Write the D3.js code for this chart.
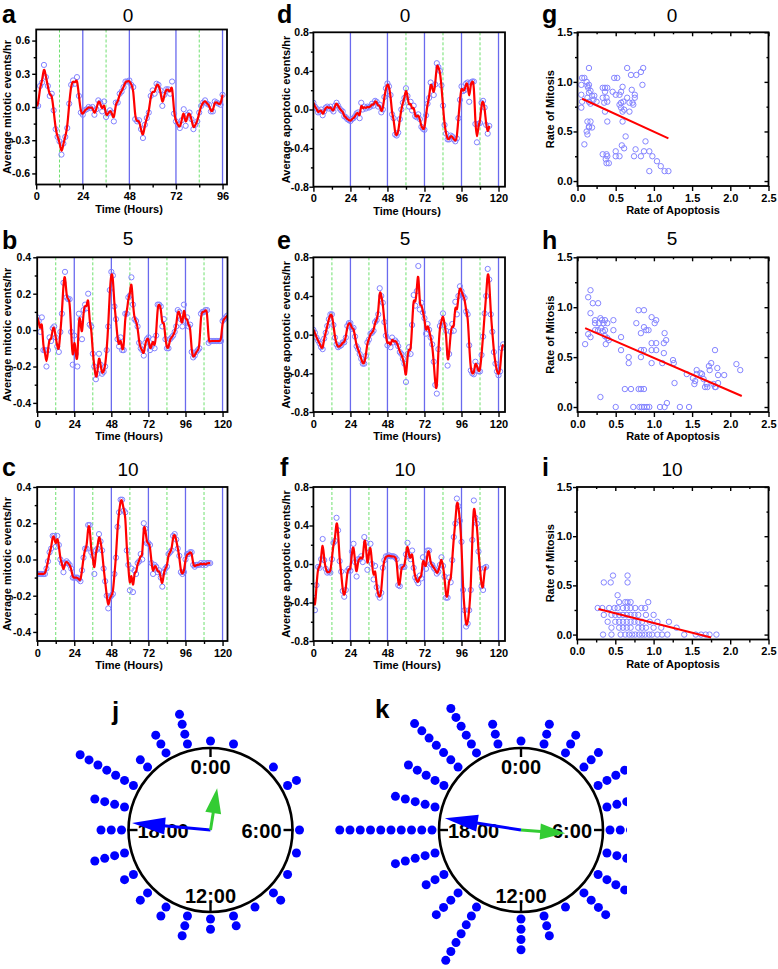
<!DOCTYPE html>
<html><head><meta charset="utf-8">
<script src="https://cdn.jsdelivr.net/npm/d3@7"></script>
<style>body{margin:0;background:#fff}svg{display:block}</style>
</head><body><svg id="fig" width="778" height="969"></svg>
<script>
// ---------- DATA ----------
const mitosis0 = [0.01,0.01,0.19,0.22,0.38,0.27,0.19,0.10,0.12,-0.03,
-0.20,-0.27,-0.31,-0.43,-0.33,-0.27,-0.19,0.03,0.20,0.24,
0.21,0.27,0.10,-0.05,-0.07,-0.03,-0.02,0.00,-0.01,0.00,
-0.07,-0.02,0.06,0.04,-0.04,0.05,-0.09,-0.06,-0.03,-0.05,
-0.13,0.04,0.04,0.12,0.14,0.18,0.23,0.23,0.24,0.20,
0.18,-0.11,-0.13,-0.12,-0.20,-0.28,-0.16,-0.10,-0.05,0.10,
0.15,0.12,0.21,0.20,0.15,0.01,0.11,0.16,0.16,0.12,
0.23,-0.06,-0.13,-0.16,-0.19,-0.12,-0.02,-0.17,-0.07,-0.05,
-0.11,-0.20,-0.16,-0.13,-0.05,0.01,0.04,0.06,0.03,0.02,
-0.04,-0.04,0.05,0.04,0.03,0.02,0.11];
const mitosis5 = [0.07,0.05,-0.01,0.07,-0.11,-0.11,-0.20,-0.11,-0.04,-0.06,
0.01,0.02,-0.04,-0.09,-0.12,-0.01,0.09,0.26,0.32,0.18,
0.17,0.17,-0.01,-0.19,-0.03,-0.13,-0.20,0.09,0.06,-0.05,
0.11,0.14,0.12,0.20,0.03,0.02,-0.13,-0.20,-0.27,-0.24,
-0.13,-0.19,-0.24,-0.23,-0.20,-0.11,0.02,0.22,0.32,0.30,
0.13,0.06,-0.05,-0.09,-0.04,-0.11,-0.11,0.09,0.09,0.18,
0.19,0.29,0.14,0.06,0.05,0.02,-0.07,-0.10,-0.11,-0.14,
-0.07,-0.05,-0.04,-0.11,-0.09,-0.05,-0.10,-0.03,0.14,0.14,
0.13,0.02,0.06,-0.05,-0.10,-0.10,-0.05,-0.04,-0.03,-0.01,
0.02,0.11,0.10,0.06,0.02,0.14,0.05,0.07,0.02,0.03,
-0.12,-0.15,-0.14,-0.12,-0.11,-0.10,0.09,0.10,0.10,0.11,
0.11,-0.07,-0.06,-0.06,-0.06,-0.06,-0.06,-0.06,-0.06,-0.06,
0.05,0.06,0.07,0.08];
const mitosis10 = [-0.08,-0.08,-0.08,-0.08,-0.08,-0.08,-0.05,-0.01,0.04,0.06,
0.13,0.13,0.07,0.13,0.08,0.00,-0.02,-0.07,-0.02,-0.01,
-0.02,-0.03,-0.05,-0.10,-0.10,-0.10,-0.10,-0.11,-0.12,-0.06,
0.01,0.06,0.06,0.19,0.19,0.04,0.02,-0.08,0.05,0.06,
0.14,0.10,0.05,-0.05,-0.12,-0.20,-0.27,-0.21,-0.20,-0.19,
-0.08,0.01,0.18,0.26,0.33,0.33,0.27,0.26,0.05,-0.03,
-0.17,-0.05,-0.18,-0.06,-0.08,-0.02,-0.01,0.03,0.00,0.20,
0.17,0.09,0.09,0.08,-0.02,-0.08,-0.03,-0.04,-0.07,-0.06,
-0.10,-0.15,-0.07,-0.05,-0.04,0.03,0.04,0.05,0.13,0.14,
0.11,0.06,0.02,-0.07,-0.08,-0.07,0.00,0.03,0.03,0.04,
0.04,-0.03,-0.04,-0.03,-0.03,-0.03,-0.02,-0.03,-0.02,-0.03,
-0.02,-0.02,-0.02];
const apoptosis0 = [0.07,0.03,0.01,-0.03,-0.02,0.00,-0.06,-0.02,0.02,0.03,
0.01,0.03,0.00,-0.02,0.04,0.07,0.04,0.01,-0.01,-0.02,
-0.07,-0.08,-0.10,-0.11,-0.12,-0.10,-0.09,-0.07,-0.04,-0.03,
-0.09,0.07,0.00,0.03,0.01,0.03,0.02,0.03,0.06,0.04,
0.09,0.08,0.03,0.05,-0.03,0.00,0.13,0.22,0.27,0.24,
0.15,-0.05,-0.09,-0.26,-0.27,-0.24,-0.10,0.00,0.07,0.12,
0.22,0.14,0.03,0.08,-0.01,0.04,-0.07,-0.08,-0.05,-0.10,
-0.18,-0.20,-0.21,-0.06,0.06,0.12,0.28,0.24,0.15,0.26,
0.48,0.44,0.40,0.25,0.04,-0.16,-0.25,-0.31,-0.31,-0.27,
-0.28,-0.31,-0.33,-0.30,-0.09,0.10,0.24,0.19,0.20,0.27,
0.28,0.08,0.28,0.29,0.29,-0.15,-0.34,-0.15,-0.14,0.07,
0.09,0.02,-0.16,-0.25,-0.17];
const apoptosis5 = [0.05,0.02,-0.03,-0.06,-0.09,-0.13,-0.15,-0.04,0.02,0.09,
0.16,0.21,0.21,0.10,-0.03,-0.10,-0.13,-0.12,-0.11,-0.08,
-0.08,-0.03,0.09,0.12,0.12,0.06,0.07,-0.02,-0.12,-0.15,
-0.20,-0.25,-0.30,-0.30,-0.22,-0.08,-0.05,0.01,0.02,0.04,
0.13,0.15,0.21,0.48,0.40,0.33,0.13,-0.01,-0.11,-0.06,
-0.13,-0.03,-0.08,-0.06,-0.08,-0.12,-0.18,-0.20,-0.25,-0.30,
-0.49,-0.20,-0.13,-0.20,0.10,0.41,0.30,0.45,0.71,0.26,
0.33,0.23,0.17,0.01,0.11,0.05,-0.03,-0.10,-0.28,-0.52,
-0.61,-0.15,0.09,0.13,0.22,0.10,0.04,-0.32,-0.20,0.03,
0.11,0.04,0.34,0.21,0.40,0.50,0.45,0.40,0.38,0.24,
0.21,-0.11,-0.37,-0.40,-0.41,-0.28,-0.32,-0.38,-0.38,-0.21,
-0.02,0.22,0.40,0.68,0.57,0.21,0.03,-0.18,-0.30,-0.38,
-0.42,-0.38,-0.14,-0.10];
const apoptosis10 = [-0.35,-0.48,-0.22,-0.03,-0.04,0.05,0.26,0.04,-0.05,-0.09,
-0.08,-0.09,0.05,0.22,0.24,0.48,0.35,0.03,-0.08,-0.28,
-0.34,-0.27,-0.07,-0.05,-0.07,0.13,0.21,0.02,-0.13,0.05,
0.05,0.08,0.02,0.28,0.22,-0.06,0.12,0.21,0.00,-0.16,
-0.02,-0.24,-0.32,-0.35,-0.30,-0.04,0.04,0.08,0.08,0.09,
0.08,0.08,0.08,0.07,0.05,-0.22,-0.23,-0.03,-0.03,-0.03,
0.10,0.22,0.08,0.05,0.14,-0.04,-0.14,-0.17,-0.20,-0.12,
-0.15,0.07,0.00,-0.05,0.14,0.14,0.00,-0.01,-0.04,-0.06,
-0.10,-0.08,-0.01,0.07,-0.02,-0.13,-0.35,-0.35,-0.14,-0.19,
0.04,0.28,0.42,0.68,0.60,0.45,0.23,-0.27,-0.48,-0.65,
-0.62,-0.48,-0.27,0.25,0.66,0.48,0.42,0.13,-0.05,-0.23,
-0.27,-0.04,-0.03];

// scatter: [rate of apoptosis, rate of mitosis]
const scatter0 = [[0.06,1.04],[0.09,1.04],[0.05,0.97],[0.12,1.00],[0.13,0.96],[0.15,0.97],[0.15,1.14],[0.14,0.94],[0.17,0.91],[0.19,0.86],[0.22,0.86],[0.05,0.87],[0.06,0.80],[0.05,0.74],[0.13,0.84],[0.15,0.80],[0.17,0.78],[0.21,0.82],[0.25,0.80],[0.15,0.89],[0.13,0.60],[0.17,0.60],[0.15,0.55],[0.19,0.54],[0.15,0.54],[0.12,0.50],[0.13,0.47],[0.09,0.37],
[0.33,0.94],[0.36,0.94],[0.39,0.94],[0.33,0.84],[0.38,0.84],[0.35,0.79],[0.39,0.80],[0.36,0.70],[0.39,0.60],[0.36,0.90],
[0.33,0.27],[0.38,0.27],[0.39,0.25],[0.37,0.22],[0.38,0.18],[0.41,0.18],
[0.48,1.04],[0.52,1.04],[0.46,0.90],[0.50,0.87],[0.55,0.87],[0.57,0.90],[0.59,0.95],[0.55,0.77],[0.57,0.74],[0.59,0.70],[0.57,0.79],[0.60,0.80],[0.61,0.72],[0.59,0.60],[0.63,0.45],[0.58,0.36],[0.61,0.33],[0.50,0.30],[0.50,0.25],[0.55,0.25],
[0.65,1.14],[0.70,1.07],[0.65,0.84],[0.68,0.79],[0.68,0.70],[0.72,0.79],[0.71,0.92],[0.73,0.77],[0.75,0.84],[0.75,0.87],[0.76,0.32],[0.74,0.25],[0.77,1.07],[0.83,1.10],[0.86,1.14],[0.85,0.97],
[0.83,0.25],[0.87,0.30],[0.89,0.40],[0.94,0.30],[0.98,0.25],[1.04,0.20],[1.09,0.15],[0.94,0.10],[1.14,0.10],[1.19,0.10]];
const scatter5 = [[0.10,0.63],[0.14,1.10],[0.17,1.17],[0.17,0.94],[0.20,1.04],[0.27,1.04],[0.14,0.73],[0.17,0.70],[0.23,0.77],[0.23,0.87],[0.23,0.84],[0.28,0.84],[0.30,0.89],[0.32,0.87],[0.34,0.84],[0.36,0.87],[0.39,0.84],[0.27,0.77],[0.31,0.79],[0.33,0.76],[0.36,0.77],[0.36,0.71],[0.39,0.69],[0.37,0.63],[0.41,0.67],[0.47,0.87],[0.47,0.77],[0.30,0.10],[0.50,0.00],
[0.57,0.70],[0.57,0.57],[0.67,0.50],[0.67,0.44],[0.62,0.18],[0.70,0.18],[0.73,0.00],[0.80,0.18],[0.83,0.18],[0.87,0.18],[0.81,0.00],[0.84,0.00],[0.87,0.00],[0.91,0.00],[0.94,0.00],
[0.77,0.84],[0.80,0.97],[0.87,0.97],[0.83,0.74],[0.87,0.80],[0.90,0.77],[0.93,0.77],[0.83,0.57],[0.83,0.50],[0.87,0.57],[0.97,0.90],[1.01,0.84],[1.03,0.87],[0.97,0.64],[0.97,0.44],[1.03,0.64],[1.03,0.57],[0.97,0.57],
[1.14,0.74],[1.16,0.67],[1.13,0.64],[1.13,0.54],[1.17,0.04],[1.14,0.00],[1.08,0.00],[1.11,0.44],[1.25,0.47],[1.26,0.44],[1.27,0.24],[1.34,0.00],[1.46,0.00],
[1.43,0.33],[1.51,0.29],[1.53,0.23],[1.54,0.26],[1.56,0.33],[1.56,0.37],[1.61,0.34],[1.63,0.33],[1.65,0.28],[1.67,0.20],[1.69,0.23],[1.70,0.20],[1.72,0.41],[1.73,0.37],[1.75,0.44],[1.78,0.23],[1.80,0.20],[1.81,0.20],[1.80,0.57],[1.83,0.39],[1.84,0.24],[1.84,0.32],[1.92,0.32],[2.08,0.43],[2.13,0.37]];
const scatter10 = [[0.47,0.60],[0.66,0.60],[0.35,0.53],[0.44,0.53],[0.66,0.53],[0.53,0.40],[0.55,0.33],[0.63,0.33],[0.66,0.33],[0.70,0.33],[0.93,0.33],
[0.27,0.27],[0.33,0.27],[0.42,0.27],[0.49,0.27],[0.53,0.27],[0.60,0.27],[0.65,0.27],[0.70,0.27],[0.76,0.27],[0.84,0.27],[0.89,0.27],
[0.35,0.20],[0.45,0.20],[0.50,0.20],[0.55,0.20],[0.60,0.20],[0.65,0.20],[0.70,0.20],[0.75,0.20],[0.80,0.20],[0.90,0.20],[1.00,0.20],
[0.40,0.13],[0.50,0.13],[0.55,0.13],[0.60,0.13],[0.65,0.13],[0.70,0.13],[0.75,0.13],[0.80,0.13],[0.85,0.13],[0.95,0.13],[1.05,0.13],[1.20,0.13],
[0.45,0.07],[0.55,0.07],[0.60,0.07],[0.65,0.07],[0.70,0.07],[0.80,0.07],[0.85,0.07],[0.90,0.07],[1.00,0.07],[1.10,0.07],[1.30,0.07],
[0.34,0],[0.45,0],[0.57,0],[0.63,0],[0.68,0],[0.72,0],[0.76,0],[0.81,0],[0.85,0],[0.89,0],[0.94,0],[0.98,0],[1.05,0],[1.11,0],[1.18,0],[1.40,0],[1.55,0],[1.62,0],[1.68,0],[1.73,0],[1.82,0]];
const fit0 = [[0.06,0.83],[1.19,0.43]];
const fit5 = [[0.10,0.79],[2.15,0.11]];
const fit10 = [[0.28,0.26],[1.75,-0.03]];

// clock: number of dots per hour (0..23)
const clockHours = d3.range(24);
const dotsJ = [1,1,0,1,2,0,1,1,1,2,1,2,2,3,2,2,2,4,3,4,7,2,3,4];
const dotsK = [1,3,3,3,4,3,3,3,4,4,1,3,4,0,7,4,3,5,10,5,5,7,6,3];
// mean vectors: [apoptosis(blue), mitosis(green)]
const arrowHourJ = [18.34, 0.6];
const arrowLenJ  = [0.96, 0.515];
const arrowHourK = [18.59, 6.29];
const arrowLenK  = [0.94, 0.54];
const clockLabels = ["0:00","6:00","12:00","18:00"];

const xTicksTime = [0,24,48,72,96,120];
const xMinorTime = [12,36,60,84,108];
const blueLines = [24,48,72,96,120];
const greenLinesFull = [12,36,60,84,108];
const greenLinesA = [12,36,84];
const greenLinesD = [60,84,108];

// ---------- DRAW ----------
const FONT = "'Liberation Sans', Arial, Helvetica, sans-serif";
const svg = d3.select("#fig");
let clipN = 0;

function styleAxis(sel, fs){
  sel.attr("font-family",FONT).attr("font-size",fs||10.5).attr("font-weight","bold");
  sel.select(".domain").remove();
  sel.selectAll(".tick line").attr("stroke","#000").attr("stroke-width",1.4);
  sel.selectAll(".tick text").attr("fill","#000");
}

function frame(g,o){
  g.append("rect").attr("x",o.x0).attr("y",o.y0).attr("width",o.x1-o.x0).attr("height",o.y1-o.y0)
    .attr("fill","none").attr("stroke","#000").attr("stroke-width",1.8);
}

function headings(o){
  svg.append("text").attr("x",o.lx).attr("y",o.ly).text(o.letter)
    .attr("font-family",FONT).attr("font-weight","bold").attr("font-size",25);
  svg.append("text").attr("x",o.tx).attr("y",o.ty).attr("text-anchor","middle").text(o.title)
    .attr("font-family",FONT).attr("font-size",19);
  svg.append("text").attr("x",o.xlx).attr("y",o.y1+28).attr("text-anchor","middle").text(o.xlabel)
    .attr("font-family",FONT).attr("font-weight","bold").attr("font-size",11);
  svg.append("text").attr("transform",`translate(${o.ylx},${(o.y0+o.y1)/2}) rotate(-90)`)
    .attr("text-anchor","middle").attr("dy","0.35em").text(o.ylabel)
    .attr("font-family",FONT).attr("font-weight","bold").attr("font-size",11);
}

function timePanel(o){
  const g = svg.append("g");
  const x = d3.scaleLinear().domain([0,o.xMax]).range([o.x0,o.x1]);
  const y = d3.scaleLinear().domain(o.yDomain).range([o.y1,o.y0]);
  const id = "clip"+(clipN++);
  svg.append("clipPath").attr("id",id).append("rect")
    .attr("x",o.x0).attr("y",o.y0).attr("width",o.x1-o.x0).attr("height",o.y1-o.y0);
  const pg = g.append("g").attr("clip-path",`url(#${id})`);
  pg.selectAll("line.gl").data(o.green).join("line").attr("class","gl")
    .attr("x1",d=>x(d)).attr("x2",d=>x(d)).attr("y1",o.y0).attr("y2",o.y1)
    .attr("stroke","#6ee06e").attr("stroke-width",1).attr("stroke-dasharray","3,2");
  pg.selectAll("line.bl").data(o.blue).join("line").attr("class","bl")
    .attr("x1",d=>x(d)).attr("x2",d=>x(d)).attr("y1",o.y0).attr("y2",o.y1)
    .attr("stroke","#6a6aee").attr("stroke-width",1.3);
  pg.selectAll("circle").data(o.values).join("circle")
    .attr("cx",(d,i)=>x(i)).attr("cy",d=>y(d)).attr("r",2.6)
    .attr("fill","none").attr("stroke","#8282ff").attr("stroke-width",1);
  pg.append("path").datum(o.values)
    .attr("d",d3.line().x((d,i)=>x(i)).y(d=>y(d)).curve(d3.curveBasis))
    .attr("fill","none").attr("stroke","#ff0000").attr("stroke-width",2.2);
  const fmtY = d=>d.toFixed(1);
  g.append("g").attr("transform",`translate(0,${o.y1})`)
    .call(d3.axisBottom(x).tickValues(xTicksTime.filter(t=>t<=o.xMax)).tickSize(5).tickPadding(3).tickFormat(d3.format("d"))).call(styleAxis,11);
  g.append("g").attr("transform",`translate(0,${o.y1})`)
    .call(d3.axisBottom(x).tickValues(xMinorTime.filter(t=>t<=o.xMax)).tickSize(3).tickFormat("")).call(styleAxis);
  g.append("g").attr("transform",`translate(${o.x0},0)`)
    .call(d3.axisLeft(y).tickValues(o.yTicks).tickSize(4).tickPadding(o.yPad).tickFormat(fmtY)).call(styleAxis,10.5);
  g.append("g").attr("transform",`translate(${o.x0},0)`)
    .call(d3.axisLeft(y).tickValues(o.yMinor).tickSize(2.5).tickFormat("")).call(styleAxis);
  frame(g,o);
  headings(o);
}

function scatterPanel(o){
  const g = svg.append("g");
  const x = d3.scaleLinear().domain([0,2.5]).range([o.x0,o.x1]);
  const y = d3.scaleLinear().domain([-0.05,1.5]).range([o.y1,o.y0]);
  const id = "clip"+(clipN++);
  svg.append("clipPath").attr("id",id).append("rect")
    .attr("x",o.x0).attr("y",o.y0).attr("width",o.x1-o.x0).attr("height",o.y1-o.y0);
  const pg = g.append("g").attr("clip-path",`url(#${id})`);
  pg.selectAll("circle").data(o.points).join("circle")
    .attr("cx",d=>x(d[0])).attr("cy",d=>y(d[1])).attr("r",2.7)
    .attr("fill","none").attr("stroke","#8585ff").attr("stroke-width",1);
  pg.append("path").datum(o.fit).attr("d",d3.line().x(d=>x(d[0])).y(d=>y(d[1])))
    .attr("stroke","#ff0000").attr("stroke-width",2).attr("fill","none");
  const major=[0,0.5,1,1.5,2,2.5], minor=[0.25,0.75,1.25,1.75,2.25];
  const fmt=d=>d.toFixed(1);
  g.append("g").attr("transform",`translate(0,${o.y1})`).call(d3.axisBottom(x).tickValues(major).tickSize(5).tickPadding(3).tickFormat(fmt)).call(styleAxis,11);
  g.append("g").attr("transform",`translate(0,${o.y1})`).call(d3.axisBottom(x).tickValues(minor).tickSize(3).tickFormat("")).call(styleAxis);
  g.append("g").attr("transform",`translate(0,${o.y0})`).call(d3.axisBottom(x).tickValues(major).tickSize(4).tickFormat("")).call(styleAxis);
  g.append("g").attr("transform",`translate(0,${o.y0})`).call(d3.axisBottom(x).tickValues(minor).tickSize(2).tickFormat("")).call(styleAxis);
  g.append("g").attr("transform",`translate(${o.x0},0)`).call(d3.axisLeft(y).tickValues([0,0.5,1,1.5]).tickSize(4).tickPadding(1).tickFormat(fmt)).call(styleAxis,11);
  g.append("g").attr("transform",`translate(${o.x0},0)`).call(d3.axisLeft(y).tickValues([0.25,0.75,1.25]).tickSize(2.5).tickFormat("")).call(styleAxis);
  g.append("g").attr("transform",`translate(${o.x1},0)`).call(d3.axisLeft(y).tickValues([0,0.5,1,1.5]).tickSize(4).tickFormat("")).call(styleAxis);
  g.append("g").attr("transform",`translate(${o.x1},0)`).call(d3.axisLeft(y).tickValues([0.25,0.75,1.25]).tickSize(2).tickFormat("")).call(styleAxis);
  frame(g,o);
  headings(o);
}

const col1 = {x0:37.2, x1:227.5, tx:128, lx:2, ylx:7, xlx:129, yPad:2, ylabel:"Average mitotic events/hr", xlabel:"Time (Hours)"};
const col2 = {x0:313.4, x1:505, tx:405, lx:277, ylx:286, xlx:407, yPad:0.5, ylabel:"Average apoptotic events/hr", xlabel:"Time (Hours)"};
const col3 = {x0:577.5, x1:768.5, tx:672, lx:542, ylx:550, xlx:673, ylabel:"Rate of Mitosis", xlabel:"Rate of Apoptosis"};
const row1 = {y0:30.5, y1:185.5, ty:21.5, ly:22.5};
const row2 = {y0:257.3, y1:412, ty:245, ly:249};
const row3 = {y0:487, y1:641, ty:476, ly:476};

timePanel({...col1,...row1,x0:36.2,x1:227,y0:29.5,y1:184.5,letter:"a",title:"0",xMax:98.3,yDomain:[-0.7,0.7],yTicks:[-0.6,-0.3,0,0.3,0.6],yMinor:[-0.45,-0.15,0.15,0.45],values:mitosis0,blue:blueLines,green:greenLinesA});
timePanel({...col1,...row2,letter:"b",title:"5",xMax:123.2,yDomain:[-0.45,0.4],yTicks:[-0.4,-0.2,0,0.2,0.4],yMinor:[-0.3,-0.1,0.1,0.3],values:mitosis5,blue:blueLines,green:greenLinesFull});
timePanel({...col1,...row3,letter:"c",title:"10",xMax:123.2,yDomain:[-0.45,0.4],yTicks:[-0.4,-0.2,0,0.2,0.4],yMinor:[-0.3,-0.1,0.1,0.3],values:mitosis10,blue:blueLines,green:greenLinesFull});
timePanel({...col2,...row1,y0:32.3,y1:186.7,letter:"d",title:"0",xMax:124.2,yDomain:[-0.8,0.8],yTicks:[-0.8,-0.4,0,0.4,0.8],yMinor:[-0.6,-0.2,0.2,0.6],values:apoptosis0,blue:blueLines,green:greenLinesD});
timePanel({...col2,...row2,letter:"e",title:"5",xMax:124.2,yDomain:[-0.8,0.8],yTicks:[-0.8,-0.4,0,0.4,0.8],yMinor:[-0.6,-0.2,0.2,0.6],values:apoptosis5,blue:blueLines,green:greenLinesFull});
timePanel({...col2,...row3,lx:280,letter:"f",title:"10",xMax:124.2,yDomain:[-0.8,0.8],yTicks:[-0.8,-0.4,0,0.4,0.8],yMinor:[-0.6,-0.2,0.2,0.6],values:apoptosis10,blue:blueLines,green:greenLinesFull});
scatterPanel({...col3,...row1,y0:32.3,y1:186,ly:23,letter:"g",title:"0",points:scatter0,fit:fit0});
scatterPanel({...col3,...row2,letter:"h",title:"5",points:scatter5,fit:fit5});
scatterPanel({...col3,...row3,x0:577,y1:639.5,letter:"i",title:"10",points:scatter10,fit:fit10});

// ---------- CLOCKS ----------
function clockPanel(o){
  const g = svg.append("g");
  if(o.clipRight){
    const id="clip"+(clipN++);
    svg.append("clipPath").attr("id",id).append("rect").attr("x",0).attr("y",680).attr("width",o.clipRight).attr("height",289);
    g.attr("clip-path",`url(#${id})`);
  }
  const R = 82;
  const ang = d3.scaleLinear().domain([0,24]).range([0,2*Math.PI]);
  const rad = d3.scaleLinear().domain([0,1]).range([89,99.25]);
  const dots = [];
  clockHours.forEach(h=>{ d3.range(o.counts[h]).forEach(k=>dots.push({h,k})); });
  g.selectAll("circle.dot").data(dots).join("circle").attr("class","dot")
    .attr("cx",d=>o.cx+rad(d.k)*Math.sin(ang(d.h)))
    .attr("cy",d=>o.cy-rad(d.k)*Math.cos(ang(d.h)))
    .attr("r",4.5).attr("fill","#0000ff");
  g.append("circle").attr("cx",o.cx).attr("cy",o.cy).attr("r",R).attr("fill","none").attr("stroke","#000").attr("stroke-width",2.6);
  [0,6,12,18].forEach(h=>{
    const a=ang(h), s=Math.sin(a), c=-Math.cos(a);
    g.append("line").attr("x1",o.cx+(R-9)*s).attr("y1",o.cy+(R-9)*c).attr("x2",o.cx+(R+1)*s).attr("y2",o.cy+(R+1)*c)
      .attr("stroke","#000").attr("stroke-width",2.4);
  });
  const tf = sel=>sel.attr("font-family",FONT).attr("font-weight","bold").attr("font-size",20).attr("fill","#000");
  g.append("text").attr("x",o.cx).attr("y",o.cy-56).attr("text-anchor","middle").text(clockLabels[0]).call(tf);
  g.append("text").attr("x",o.cx+71).attr("y",o.cy+7.5).attr("text-anchor","end").text(clockLabels[1]).call(tf);
  g.append("text").attr("x",o.cx).attr("y",o.cy+72.5).attr("text-anchor","middle").text(clockLabels[2]).call(tf);
  g.append("text").attr("x",o.cx-73).attr("y",o.cy+7.5).attr("text-anchor","start").text(clockLabels[3]).call(tf);
  const colors=["#0000ff","#33cc33"], headL=[33,25], headW=[8.5,8];
  o.hours.forEach((hr,i)=>{
    const a=ang(hr), ux=Math.sin(a), uy=-Math.cos(a), px=-uy, py=ux;
    const len=o.lens[i]*R;
    const tip=[o.cx+ux*len,o.cy+uy*len];
    const b=[o.cx+ux*(len-headL[i]),o.cy+uy*(len-headL[i])];
    g.append("line").attr("x1",o.cx).attr("y1",o.cy).attr("x2",b[0]+ux*4).attr("y2",b[1]+uy*4)
      .attr("stroke",colors[i]).attr("stroke-width",3);
    g.append("path").attr("d",d3.line()([tip,[b[0]+px*headW[i],b[1]+py*headW[i]],[b[0]-px*headW[i],b[1]-py*headW[i]]])+"Z")
      .attr("fill",colors[i]);
  });
  svg.append("text").attr("x",o.lx).attr("y",o.ly).text(o.letter)
    .attr("font-family",FONT).attr("font-weight","bold").attr("font-size",26);
}
clockPanel({cx:210.5,cy:830,counts:dotsJ,hours:arrowHourJ,lens:arrowLenJ,letter:"j",lx:112,ly:720});
clockPanel({cx:521,cy:830,counts:dotsK,hours:arrowHourK,lens:arrowLenK,letter:"k",lx:375,ly:718,clipRight:627});
</script>
</body></html>
